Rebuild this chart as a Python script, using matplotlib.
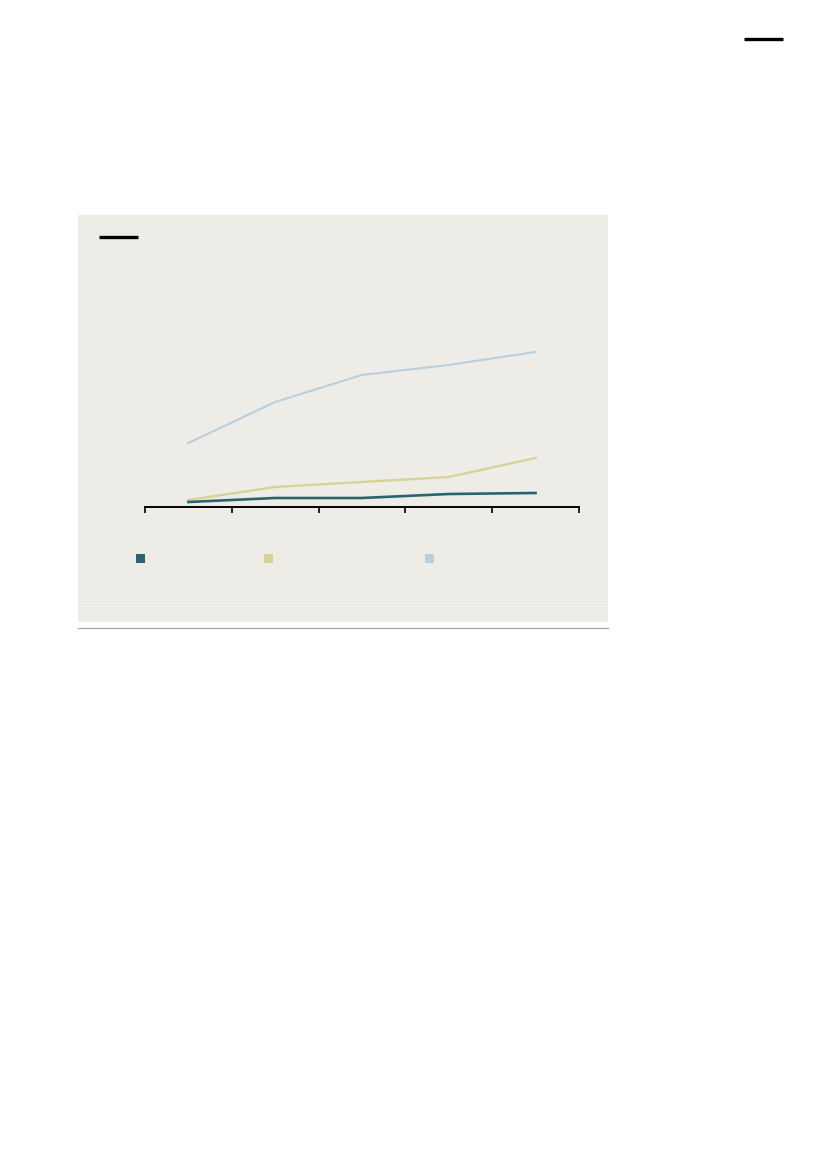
import matplotlib
matplotlib.use('Agg')
import matplotlib.pyplot as plt
from matplotlib.patches import Rectangle
from matplotlib.lines import Line2D

# five periods, no labels visible in the reference
periods = [0.5, 1.5, 2.5, 3.5, 4.5]
series_a = [5, 9, 9, 13, 14]
series_b = [7, 20, 25, 30, 49]
series_c = [64, 105, 132, 142, 155]

col_a = '#2A6470'
col_b = '#D8D394'
col_c = '#B8CFDD'
panel = '#EDECE7'

fig = plt.figure(figsize=(8.27, 11.69), dpi=100)
fig.patch.set_facecolor('white')

# grey panel behind the chart
fig.add_artist(Rectangle((0.0943, 0.4679), 0.6409, 0.3482, transform=fig.transFigure,
                         facecolor=panel, edgecolor='none', zorder=0))
for yy in [0.7973, 0.4842]:
    fig.add_artist(Line2D([0.0943, 0.7352], [yy, yy], transform=fig.transFigure,
                          color='#F3F2EE', lw=0.8, zorder=1))
fig.add_artist(Line2D([0.0943, 0.7352], [0.4628, 0.4628], transform=fig.transFigure,
                      color='#A8A8A8', lw=0.9))

# black bars
fig.add_artist(Line2D([0.1197, 0.1669], [0.7973, 0.7973], transform=fig.transFigure,
                      color='black', lw=2.4, solid_capstyle='butt'))
fig.add_artist(Line2D([0.8996, 0.9468], [0.9666, 0.9666], transform=fig.transFigure,
                      color='black', lw=2.4, solid_capstyle='butt'))

ax = fig.add_axes([0.1753, 0.5663, 0.5248, 0.2139])
ax.patch.set_alpha(0)
ax.plot(periods, series_c, color=col_c, lw=1.5, zorder=3)
ax.plot(periods, series_b, color=col_b, lw=1.7, zorder=4)
ax.plot(periods, series_a, color=col_a, lw=1.9, zorder=5)
ax.set_xlim(0, 5)
ax.set_ylim(0, 250)
ax.set_xticks(range(6))
ax.set_xticklabels([])
ax.set_yticks([])
for s in ['top', 'left', 'right']:
    ax.spines[s].set_visible(False)
ax.spines['bottom'].set_linewidth(1.4)
ax.tick_params(axis='x', direction='out', length=4.5, width=1.2, color='black')

# legend squares
for xpos, c in zip([0.1645, 0.3192, 0.5139], [col_a, col_b, col_c]):
    fig.add_artist(Rectangle((xpos, 0.5184), 0.0109, 0.0077, transform=fig.transFigure,
                             facecolor=c, edgecolor='none'))

fig.savefig('out.png', dpi=100, facecolor='white')
